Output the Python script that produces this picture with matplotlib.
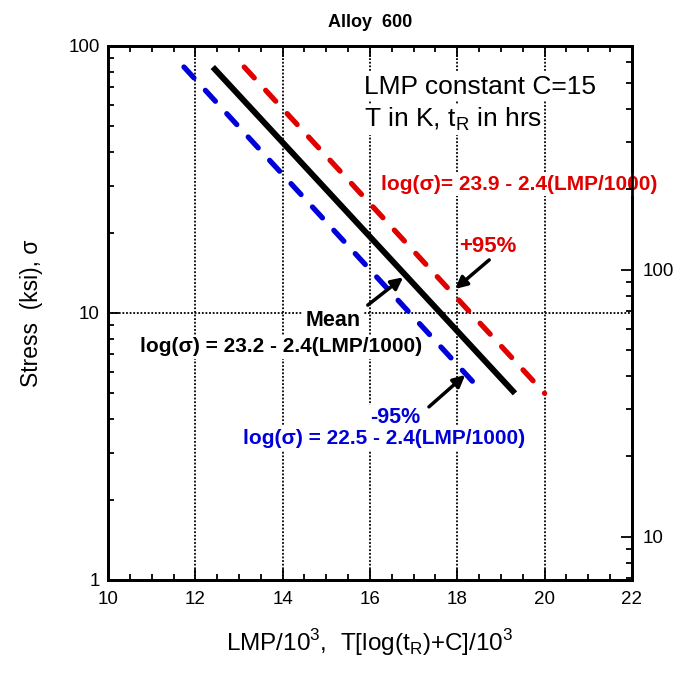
import numpy as np
import matplotlib
matplotlib.use("Agg")
import matplotlib.pyplot as plt
from matplotlib.ticker import LogLocator, NullFormatter, FixedLocator, FixedFormatter

plt.rcParams['font.family'] = ['Liberation Sans', 'DejaVu Sans']
plt.rcParams['mathtext.fontset'] = 'custom'
plt.rcParams['mathtext.rm'] = 'Liberation Sans'

# =============================================================================
# data (LMP/1000 vs stress in ksi)
# =============================================================================
stress_ends = [83.4, 5.0]
mean_lmp = [12.40, 19.32]
lower_lmp = [11.74, 18.60]   # -95%
upper_lmp = [13.12, 20.00]   # +95%

x_ticks = [10, 12, 14, 16, 18, 20, 22]
y_ticks = [1, 10, 100]
mpa_ticks = [10, 100]
ksi_to_mpa = 6.895

red = '#e00000'
blue = '#0000d8'

fig = plt.figure(figsize=(6.81, 6.74), dpi=100)
ax = fig.add_axes([0.1586, 0.1395, 0.7694, 0.7923])

# dotted grid
for gx in [12, 14, 16, 18, 20]:
    ax.axvline(gx, color='k', lw=1.3, ls=(0, (1, 1)), zorder=1)
ax.axhline(10, color='k', lw=1.3, ls=(0, (1, 1)), zorder=1)

ax.plot(lower_lmp, stress_ends, color=blue, lw=3.8, ls=(0, (2.8, 3.2)),
        solid_capstyle='round', dash_capstyle='round', zorder=3)
ax.plot(upper_lmp, stress_ends, color=red, lw=3.8, ls=(0, (2.8, 3.2)),
        solid_capstyle='round', dash_capstyle='round', zorder=3)
ax.plot(mean_lmp, stress_ends, color='k', lw=4.3, solid_capstyle='butt', zorder=4)

ax.set_yscale('log')
ax.set_xlim(10, 22)
ax.set_ylim(1, 100)
ax.set_xticks(x_ticks)
ax.set_xticklabels([str(v) for v in x_ticks])
ax.xaxis.set_minor_locator(FixedLocator(np.arange(10, 22.01, 0.5)))
ax.yaxis.set_major_locator(FixedLocator(y_ticks))
ax.yaxis.set_major_formatter(FixedFormatter([str(v) for v in y_ticks]))
ax.yaxis.set_minor_locator(LogLocator(base=10, subs=np.arange(2, 10)))
ax.yaxis.set_minor_formatter(NullFormatter())
ax.tick_params(which='both', direction='in', top=True, right=False,
               labelsize=13.5, width=1.3)
ax.tick_params(which='major', length=8)
ax.tick_params(which='minor', length=4.5)
ax.tick_params(axis='x', pad=8)
ax.tick_params(axis='y', pad=6)
for s in ax.spines.values():
    s.set_linewidth(2)

# right axis in MPa
ax2 = ax.twinx()
ax2.set_yscale('log')
ax2.set_ylim(1 * ksi_to_mpa, 100 * ksi_to_mpa)
ax2.yaxis.set_major_locator(FixedLocator(mpa_ticks))
ax2.yaxis.set_major_formatter(FixedFormatter([str(v) for v in mpa_ticks]))
ax2.yaxis.set_minor_locator(LogLocator(base=10, subs=np.arange(2, 10)))
ax2.yaxis.set_minor_formatter(NullFormatter())
ax2.tick_params(which='both', direction='in', labelsize=13.5, width=1.3, pad=8)
ax2.tick_params(which='major', length=8)
ax2.tick_params(which='minor', length=4.5)
for s in ax2.spines.values():
    s.set_linewidth(2)

ax.set_xlabel(r'LMP/10$^\mathregular{3}$,  T[log(t$_\mathregular{R}$)+C]/10$^\mathregular{3}$',
              fontsize=17.5, labelpad=14)
ax.set_ylabel('Stress  (ksi), σ', fontsize=16.5, labelpad=18)
ax.set_title('Alloy  600', fontsize=13, fontweight='bold', pad=14)

wbox = dict(facecolor='white', edgecolor='none', pad=1.5)

ax.text(15.86, 70.5, 'LMP constant C=15', fontsize=19, ha='left', va='center',
        bbox=wbox, zorder=5)
ax.text(15.86, 53.0, r'T in K, t$_\mathregular{R}$ in hrs', fontsize=19, ha='left',
        va='center', bbox=dict(facecolor='white', edgecolor='none', pad=1), zorder=5)

ax.text(19.41, 30.2, 'log(σ)= 23.9 - 2.4(LMP/1000)', fontsize=15,
        fontweight='bold', color=red, ha='center', va='center', bbox=wbox,
        zorder=5, clip_on=False)
ax.text(18.70, 17.7, '+95%', fontsize=16, fontweight='bold', color=red,
        ha='center', va='center', zorder=5)
ax.text(15.15, 9.4, 'Mean', fontsize=15.5, fontweight='bold', color='k',
        ha='center', va='center', bbox=wbox, zorder=5)
ax.text(13.96, 7.46, 'log(σ) = 23.2 - 2.4(LMP/1000)', fontsize=15,
        fontweight='bold', color='k', ha='center', va='center', bbox=wbox, zorder=5)
ax.text(16.57, 4.07, '-95%', fontsize=15.5, fontweight='bold', color=blue,
        ha='center', va='center', bbox=wbox, zorder=5)
ax.text(16.32, 3.40, 'log(σ) = 22.5 - 2.4(LMP/1000)', fontsize=15,
        fontweight='bold', color=blue, ha='center', va='center', bbox=wbox, zorder=5)

arrow = dict(arrowstyle='-|>,head_length=0.7,head_width=0.35', color='k', lw=2.5,
             shrinkA=0, shrinkB=0)
ax.annotate('', xy=(16.76, 13.6), xytext=(15.95, 10.7), arrowprops=arrow, zorder=6)
ax.annotate('', xy=(17.95, 12.3), xytext=(18.73, 15.8), arrowprops=arrow, zorder=6)
ax.annotate('', xy=(18.18, 5.86), xytext=(17.35, 4.45), arrowprops=arrow, zorder=6)

fig.savefig('out.png', dpi=100)
